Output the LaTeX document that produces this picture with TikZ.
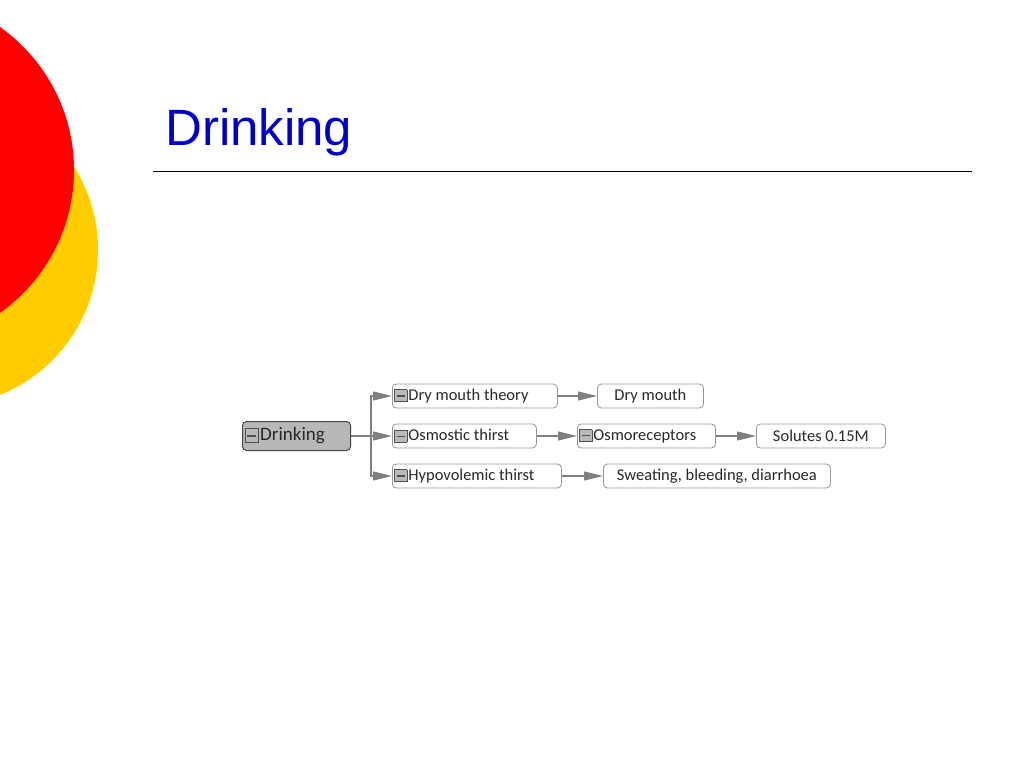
\documentclass[tikz,border=0pt]{standalone}
\usepackage{fontspec}
\setmainfont{Liberation Sans}
\newfontfamily\mapfont{Carlito}
\usepackage{xcolor}
\usetikzlibrary{arrows.meta,shapes,positioning}
\definecolor{titleblue}{RGB}{0, 0, 204}
\definecolor{discred}{RGB}{255, 0, 0}
\definecolor{discyellow}{RGB}{255, 204, 0}
\definecolor{rootfill}{RGB}{184, 184, 184}
\definecolor{rootdraw}{RGB}{70, 70, 70}
\definecolor{boxdraw}{RGB}{150, 150, 150}
\definecolor{linkgray}{RGB}{128, 128, 128}
\definecolor{iconfill}{RGB}{185, 185, 185}
\definecolor{icondraw}{RGB}{80, 80, 80}
\definecolor{maptext}{RGB}{40, 40, 40}
\newcommand{\minusicon}{{\setlength{\fboxsep}{0pt}\setlength{\fboxrule}{0.9pt}\raisebox{-0.06em}{\fcolorbox{icondraw}{iconfill}{\makebox[0.68em]{\rule{0pt}{0.68em}\textcolor{icondraw}{\rule[0.29em]{0.46em}{1.3pt}}}}}\hspace{1pt}}}
\newcommand{\leftbox}[2]{\makebox[#1][l]{#2}}
\tikzset{
    mapbox/.style={draw=boxdraw, line width=0.8pt, fill=white, rounded corners=4pt, text=maptext,
        font=\mapfont\fontsize{16.5}{18}\selectfont, anchor=west, minimum height=24pt, inner sep=2pt},
    rootbox/.style={mapbox, draw=rootdraw, fill=rootfill, line width=1pt,
        font=\mapfont\fontsize{19}{22}\selectfont, minimum height=29pt},
    link/.style={draw=linkgray, line width=1.2pt, -{Triangle[length=19pt,width=9pt]}}
}
\begin{document}
\begin{tikzpicture}[x=1pt,y=-1pt]
            % Page frame
            \useasboundingbox (0,0) rectangle (1024,768);
            \fill[white] (0,0) rectangle (1024,768);
            
            % Decorative discs
            \begin{scope}
                \clip (0,0) rectangle (1024,768);
                \fill[discyellow] (-58,250) circle (156);
                \fill[discred] (-101,170) circle (175);
            \end{scope}
            
            % Title
            \node[titleblue, font=\fontsize{51}{56}\selectfont, anchor=base west, inner sep=0pt] (title) at (165,145) {Drinking};
            \draw[black, line width=1pt] (153,171) -- (972,171);
            
            % Mind map nodes
            \node[rootbox] (root) at (242,436) {\leftbox{104pt}{\minusicon Drinking}};
            \node[mapbox] (drytheory) at (392,396) {\leftbox{161pt}{\minusicon Dry mouth theory}};
            \node[mapbox] (osmotic) at (392,436) {\leftbox{140pt}{\minusicon Osmostic thirst}};
            \node[mapbox] (hypo) at (392,476) {\leftbox{165pt}{\minusicon Hypovolemic thirst}};
            \node[mapbox, minimum width=106pt] (drymouth) at (597,396) {Dry mouth};
            \node[mapbox] (receptors) at (577,436) {\leftbox{134pt}{\minusicon Osmoreceptors}};
            \node[mapbox, minimum width=129pt] (solutes) at (756,436) {Solutes 0.15M};
            \node[mapbox, minimum width=227pt] (causes) at (603,476) {Sweating, bleeding, diarrhoea};
            
            % Connectors
            \coordinate (trunk) at (371,436);
            \draw[draw=linkgray, line width=1.2pt] (root.east) -- (trunk);
            \foreach \child in {drytheory, osmotic, hypo} {
                \draw[link] (trunk) |- (\child.west);
            }
            \draw[link] (drytheory) -- (drymouth);
            \draw[link] (osmotic) -- (receptors);
            \draw[link] (receptors) -- (solutes);
            \draw[link] (hypo) -- (causes);
\end{tikzpicture}
\end{document}
